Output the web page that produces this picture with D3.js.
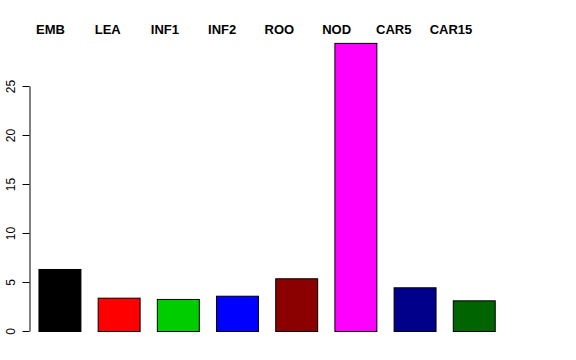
<!DOCTYPE html>
<html><head><meta charset="utf-8">
<script src="https://cdn.jsdelivr.net/npm/d3@7"></script>
<style>body{margin:0;background:#fff;}svg{display:block;}</style>
</head><body>
<script>
const categories = ["EMB","LEA","INF1","INF2","ROO","NOD","CAR5","CAR15"];
const values = [6.33, 3.4, 3.27, 3.6, 5.38, 29.4, 4.46, 3.13];
const colors = ["#000000","#FF0000","#00CD00","#0000FF","#8B0000","#FF00FF","#00008B","#006400"];
const yTicks = [0,5,10,15,20,25];

const W = 576, H = 360;
const svg = d3.select("body").append("svg").attr("width", W).attr("height", H);

const y = d3.scaleLinear().domain([0, 25]).range([331, 86]);
const x = d3.scaleBand().domain(categories).range([28.4, 504.8]).paddingInner(0.291).paddingOuter(0.17);
const xl = d3.scalePoint().domain(categories).range([50.5, 451]);

svg.append("g").selectAll("rect").data(categories).join("rect")
  .attr("x", d => x(d) + 0.5)
  .attr("y", (d,i) => y(values[i]) + 0.5)
  .attr("width", x.bandwidth())
  .attr("height", (d,i) => y(0) - y(values[i]))
  .attr("fill", (d,i) => colors[i])
  .attr("stroke", "#000").attr("stroke-width", 1);

const ax = svg.append("g").attr("transform", "translate(29.5,0)")
  .call(d3.axisLeft(y).tickValues(yTicks).tickSize(7).tickSizeOuter(0).tickPadding(0));
ax.select(".domain").attr("stroke", "#000");
ax.selectAll(".tick line").attr("stroke", "#000");
ax.selectAll(".tick text")
  .attr("font-family", "Liberation Sans, Arial, sans-serif").attr("font-size", 12)
  .attr("fill", "#000")
  .attr("text-anchor", "middle")
  .attr("transform", "translate(-19,0) rotate(-90)")
  .attr("x", 0).attr("dy", "0.35em");

svg.append("g").selectAll("text").data(categories).join("text")
  .attr("x", d => xl(d)).attr("y", 34)
  .attr("text-anchor", "middle")
  .attr("font-family", "Liberation Sans, Arial, sans-serif")
  .attr("font-weight", "bold").attr("font-size", 13)
  .attr("fill", "#000")
  .text(d => d);
</script>
</body></html>
